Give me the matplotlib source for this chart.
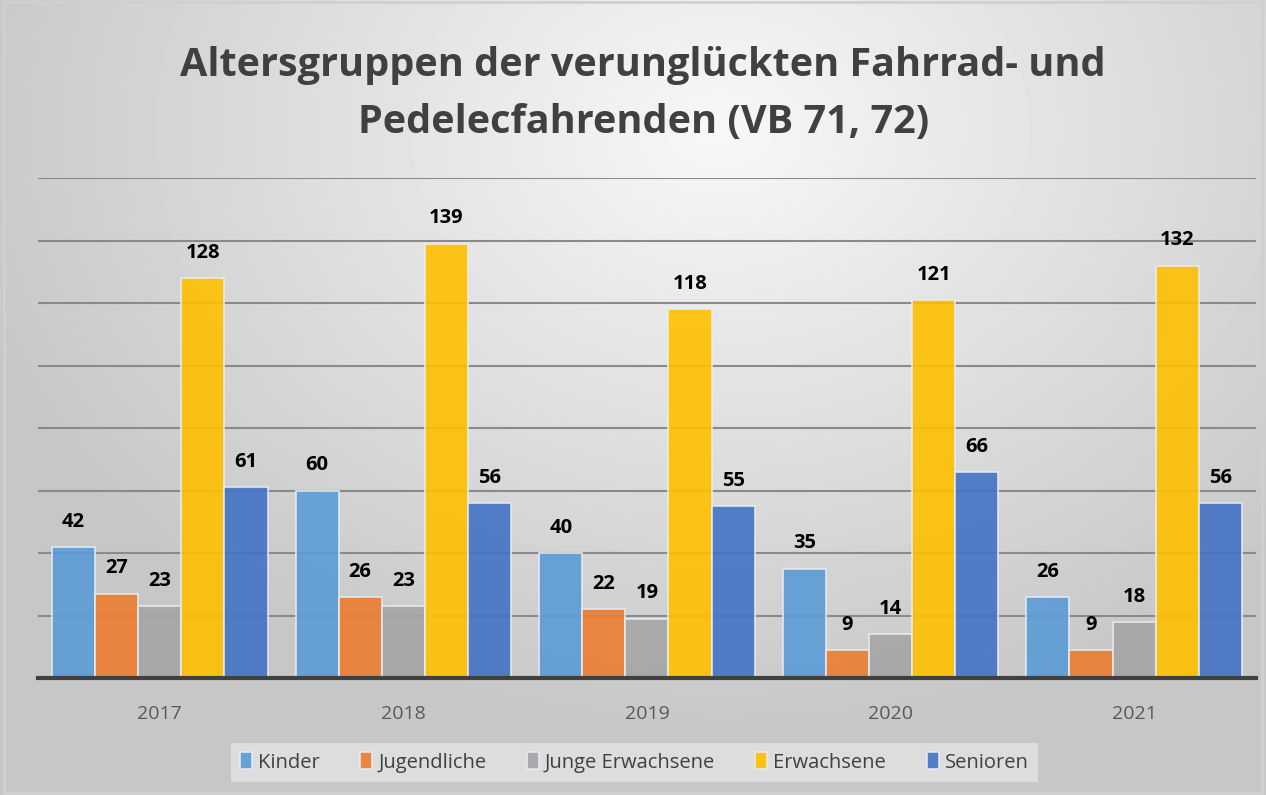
import numpy as np
import matplotlib.pyplot as plt
from matplotlib.patches import Rectangle

years = ["2017", "2018", "2019", "2020", "2021"]
groups = ["Kinder", "Jugendliche", "Junge Erwachsene", "Erwachsene", "Senioren"]
kinder = [42, 60, 40, 35, 26]
jugendliche = [27, 26, 22, 9, 9]
junge_erw = [23, 23, 19, 14, 18]
erwachsene = [128, 139, 118, 121, 132]
senioren = [61, 56, 55, 66, 56]
series = [kinder, jugendliche, junge_erw, erwachsene, senioren]
colors = ["#5B9BD5", "#ED7D31", "#A5A5A5", "#FFC000", "#4472C4"]

plt.rcParams['font.family'] = ['Open Sans', 'DejaVu Sans']

fig = plt.figure(figsize=(12.66, 7.95), dpi=100)

# radial grey background
bg = fig.add_axes([0, 0, 1, 1], zorder=-10)
yy, xx = np.mgrid[0:795, 0:1266]
r = np.sqrt(((xx - 720) / 900.0) ** 2 + ((yy - 130) / 700.0) ** 2)
shade = np.clip(0.97 - 0.22 * r, 0.78, 0.97)
bg.imshow(shade, cmap='gray', vmin=0, vmax=1, aspect='auto', extent=[0, 1, 0, 1])
bg.add_patch(Rectangle((0.003, 0.003), 0.994, 0.994, fill=False, edgecolor='#d0d0d0', lw=2))
bg.axis('off')

ax = fig.add_axes([0.030, 0.147, 0.962, 0.629])
ax.patch.set_alpha(0)

x = np.arange(len(years))
width = 0.177
for i, (vals, col) in enumerate(zip(series, colors)):
    pos = x + (i - 2) * width
    bars = ax.bar(pos, vals, width, color=col, alpha=0.9, edgecolor='#e8eef5',
                  linewidth=1.2, label=groups[i], zorder=3)
    for b, v in zip(bars, vals):
        ax.annotate(str(v), (b.get_x() + b.get_width() / 2, v), xytext=(0, 11),
                    textcoords='offset points', ha='center', va='bottom',
                    fontsize=14.5, fontweight='bold', color='black')

ax.set_xlim(-0.5, 4.5)
ax.set_ylim(0, 160)
ax.set_yticks(range(0, 161, 20))
ax.yaxis.grid(True, color='#8a8a8a', linewidth=1.5, zorder=0)
ax.tick_params(axis='y', left=False, labelleft=False)
ax.set_xticks(x)
ax.set_xticklabels(years, fontsize=14, color='#595959')
ax.tick_params(axis='x', length=0, pad=19)
for s in ['top', 'right', 'left']:
    ax.spines[s].set_visible(False)
ax.spines['bottom'].set_color('#404040')
ax.spines['bottom'].set_linewidth(3)
ax.spines['bottom'].set_zorder(4)

fig.text(0.508, 0.882, "Altersgruppen der verunglückten Fahrrad- und\nPedelecfahrenden (VB 71, 72)",
         ha='center', va='center', fontsize=28.5, fontweight='bold', color='#404040',
         linespacing=1.62)

leg = fig.legend(loc='center', bbox_to_anchor=(0.501, 0.041), ncol=5, frameon=True,
                 fontsize=14.5, handlelength=0.6, handleheight=0.9, handletextpad=0.3,
                 columnspacing=2.0, borderpad=0.45, fancybox=False)
leg.get_frame().set_facecolor('#e0e0e0')
leg.get_frame().set_edgecolor('none')
leg.get_frame().set_alpha(0.9)
for t in leg.get_texts():
    t.set_color('#404040')

fig.savefig('out.png', dpi=100)
